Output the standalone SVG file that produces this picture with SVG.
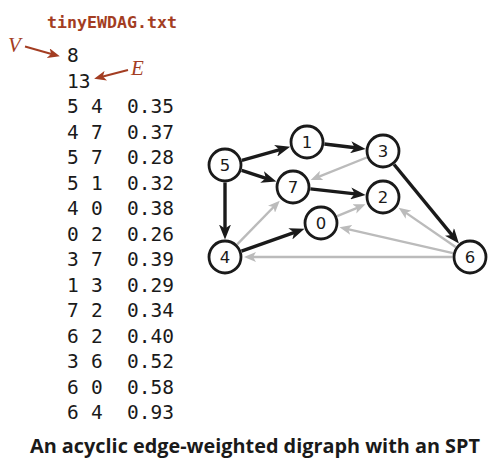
<svg xmlns="http://www.w3.org/2000/svg" width="503" height="466" viewBox="0 0 503 466">
<style>
.red{fill:#a33d22}
.mono{font-family:"DejaVu Sans Mono","Liberation Mono",monospace;font-size:19.5px;fill:#1a1a1a}
.it{font-family:"Liberation Serif","DejaVu Serif",serif;font-style:italic;font-size:21px;fill:#a33d22}
.node circle{fill:#fff;stroke:#1a1a1a;stroke-width:2.8}
.node text{font-family:"DejaVu Sans","Liberation Sans",sans-serif;font-size:16.5px;fill:#1a1a1a;text-anchor:middle}
.tree{stroke:#1a1a1a;stroke-width:3.4;fill:none;marker-end:url(#ab)}
.other{stroke:#bbbbbb;stroke-width:2.4;fill:none;marker-end:url(#ag)}
.lab{stroke:#a33d22;stroke-width:2;fill:none;marker-end:url(#ar)}
</style>
<defs>
<marker id="ab" markerUnits="userSpaceOnUse" markerWidth="16" markerHeight="12" refX="9" refY="6" orient="auto" viewBox="0 0 16 12"><path d="M0,0 L15,6 L0,12 L4,6 z" fill="#1a1a1a"/></marker>
<marker id="ag" markerUnits="userSpaceOnUse" markerWidth="13" markerHeight="10" refX="7" refY="5" orient="auto" viewBox="0 0 13 10"><path d="M0,0 L12,5 L0,10 L3,5 z" fill="#bbbbbb"/></marker>
<marker id="ar" markerUnits="userSpaceOnUse" markerWidth="13" markerHeight="10" refX="7" refY="5" orient="auto" viewBox="0 0 13 10"><path d="M0,0 L12,5 L0,10 L3,5 z" fill="#a33d22"/></marker>
</defs>

<g id="file">
<text x="47" y="28" font-family="DejaVu Sans Mono,Liberation Mono,monospace" font-weight="bold" font-size="16.5" class="red" textLength="130" lengthAdjust="spacingAndGlyphs">tinyEWDAG.txt</text>
<text x="8" y="52" class="it">V</text>
<text x="131" y="75" class="it">E</text>
<path class="lab" d="M25,46.5 L55,55"/>
<path class="lab" d="M128,70 L99,77.5"/>
<g class="mono">
<text x="67" y="62">8</text>
<text x="67" y="87.5">13</text>
<text x="67" y="113">5</text><text x="91" y="113">4</text><text x="127" y="113">0.35</text>
<text x="67" y="138.5">4</text><text x="91" y="138.5">7</text><text x="127" y="138.5">0.37</text>
<text x="67" y="164">5</text><text x="91" y="164">7</text><text x="127" y="164">0.28</text>
<text x="67" y="189.5">5</text><text x="91" y="189.5">1</text><text x="127" y="189.5">0.32</text>
<text x="67" y="215">4</text><text x="91" y="215">0</text><text x="127" y="215">0.38</text>
<text x="67" y="240.5">0</text><text x="91" y="240.5">2</text><text x="127" y="240.5">0.26</text>
<text x="67" y="266">3</text><text x="91" y="266">7</text><text x="127" y="266">0.39</text>
<text x="67" y="291.5">1</text><text x="91" y="291.5">3</text><text x="127" y="291.5">0.29</text>
<text x="67" y="317">7</text><text x="91" y="317">2</text><text x="127" y="317">0.34</text>
<text x="67" y="342.5">6</text><text x="91" y="342.5">2</text><text x="127" y="342.5">0.40</text>
<text x="67" y="368">3</text><text x="91" y="368">6</text><text x="127" y="368">0.52</text>
<text x="67" y="393.5">6</text><text x="91" y="393.5">0</text><text x="127" y="393.5">0.58</text>
<text x="67" y="419">6</text><text x="91" y="419">4</text><text x="127" y="419">0.93</text>
</g>
</g>

<g id="connectors">
<path class="other" d="M366.75,157.5 L315.28,178.08"/>
<path class="other" d="M237.19,244.45 L276.28,204.22"/>
<path class="other" d="M337.14,216.23 L360.87,206.28"/>
<path class="other" d="M455.59,247.06 L402.76,210.63"/>
<path class="other" d="M452.94,253.11 L344.4,228.34"/>
<path class="other" d="M452.5,257 L249,257"/>
<path class="tree" d="M241.85,160.27 L284.37,148.35"/>
<path class="tree" d="M324.38,144.06 L359.66,148.23"/>
<path class="tree" d="M241.65,170.39 L270.64,179.76"/>
<path class="tree" d="M310.39,188.93 L359.65,194.41"/>
<path class="tree" d="M225,182.5 L225,233.5"/>
<path class="tree" d="M241.5,251.16 L298.85,230.84"/>
<path class="tree" d="M394.1,164.53 L455.1,238.83"/>
</g>

<g id="node5" class="node"><circle cx="225" cy="165" r="16"/><text x="225" y="171">5</text></g>
<g id="node1" class="node"><circle cx="307" cy="142" r="16"/><text x="307" y="148">1</text></g>
<g id="node3" class="node"><circle cx="383" cy="151" r="16"/><text x="383" y="157">3</text></g>
<g id="node7" class="node"><circle cx="293" cy="187" r="16"/><text x="293" y="193">7</text></g>
<g id="node2" class="node"><circle cx="383" cy="197" r="16"/><text x="383" y="203">2</text></g>
<g id="node0" class="node"><circle cx="321" cy="223" r="16"/><text x="321" y="229">0</text></g>
<g id="node4" class="node"><circle cx="225" cy="257" r="16"/><text x="225" y="263">4</text></g>
<g id="node6" class="node"><circle cx="470" cy="257" r="16"/><text x="470" y="263">6</text></g>

<text id="caption" x="30" y="453" font-family="Open Sans,Liberation Sans,sans-serif" font-weight="bold" font-size="19.5" fill="#1a1a1a" textLength="450" lengthAdjust="spacingAndGlyphs">An acyclic edge-weighted digraph with an SPT</text>
</svg>
